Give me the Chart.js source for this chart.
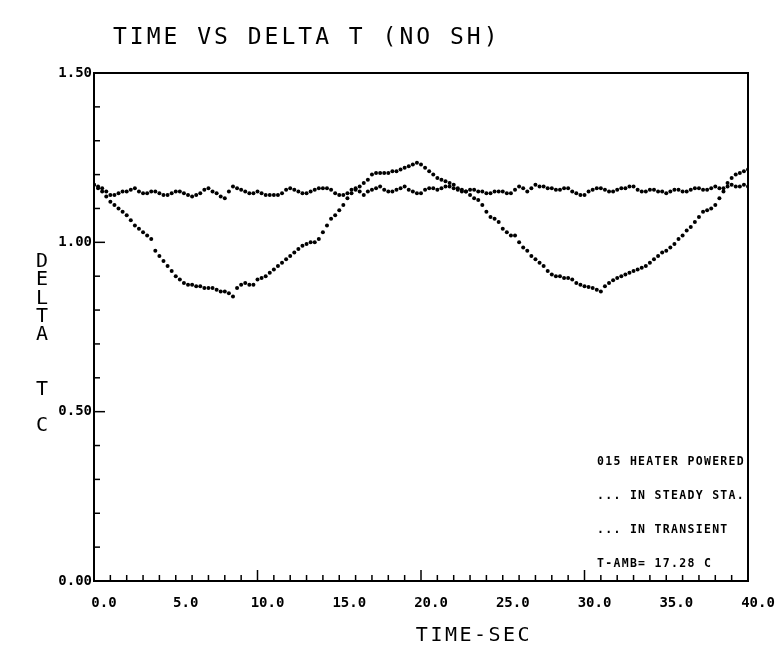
<!DOCTYPE html>
<html>
<head>
<meta charset="utf-8">
<script src="https://cdn.jsdelivr.net/npm/chart.js@4.4.1/dist/chart.umd.min.js"></script>
<style>
html, body { margin: 0; padding: 0; background: #fff; }
</style>
</head>
<body>
<canvas id="mycanvas" width="781" height="660"></canvas>
<script>
// time in seconds, one second per line
var timeSec = [0, 0.25, 0.5, 0.75, 1, 1.25, 1.5, 1.75, 2, 2.25, 2.5, 2.75, 3, 3.25, 3.5, 3.75,
    4, 4.25, 4.5, 4.75, 5, 5.25, 5.5, 5.75, 6, 6.25, 6.5, 6.75, 7, 7.25, 7.5, 7.75,
    8, 8.25, 8.5, 8.75, 9, 9.25, 9.5, 9.75, 10, 10.25, 10.5, 10.75, 11, 11.25, 11.5, 11.75,
    12, 12.25, 12.5, 12.75, 13, 13.25, 13.5, 13.75, 14, 14.25, 14.5, 14.75, 15, 15.25, 15.5, 15.75,
    16, 16.25, 16.5, 16.75, 17, 17.25, 17.5, 17.75, 18, 18.25, 18.5, 18.75, 19, 19.25, 19.5, 19.75,
    20, 20.25, 20.5, 20.75, 21, 21.25, 21.5, 21.75, 22, 22.25, 22.5, 22.75, 23, 23.25, 23.5, 23.75,
    24, 24.25, 24.5, 24.75, 25, 25.25, 25.5, 25.75, 26, 26.25, 26.5, 26.75, 27, 27.25, 27.5, 27.75,
    28, 28.25, 28.5, 28.75, 29, 29.25, 29.5, 29.75, 30, 30.25, 30.5, 30.75, 31, 31.25, 31.5, 31.75,
    32, 32.25, 32.5, 32.75, 33, 33.25, 33.5, 33.75, 34, 34.25, 34.5, 34.75, 35, 35.25, 35.5, 35.75,
    36, 36.25, 36.5, 36.75, 37, 37.25, 37.5, 37.75, 38, 38.25, 38.5, 38.75, 39, 39.25, 39.5, 39.75,
    40]

// delta T, heater in steady state
var steadyDeltaT = [
    1.17, 1.165, 1.16, 1.15,   1.14, 1.14, 1.145, 1.15,   1.15, 1.155, 1.16, 1.15,   1.145, 1.145, 1.15, 1.15,
    1.145, 1.14, 1.14, 1.145,  1.15, 1.15, 1.145, 1.14,   1.135, 1.14, 1.145, 1.155, 1.16, 1.15, 1.145, 1.135,
    1.13, 1.15, 1.165, 1.16,   1.155, 1.15, 1.145, 1.145, 1.15, 1.145, 1.14, 1.14,   1.14, 1.14, 1.145, 1.155,
    1.16, 1.155, 1.15, 1.145,  1.145, 1.15, 1.155, 1.16,  1.16, 1.16, 1.155, 1.145,  1.14, 1.14, 1.145, 1.155,
    1.16, 1.15, 1.14, 1.15,    1.155, 1.16, 1.165, 1.155, 1.15, 1.15, 1.155, 1.16,   1.165, 1.155, 1.15, 1.145,
    1.145, 1.155, 1.16, 1.16,  1.155, 1.16, 1.165, 1.165, 1.16, 1.155, 1.15, 1.15,   1.155, 1.155, 1.15, 1.15,
    1.145, 1.145, 1.15, 1.15,  1.15, 1.145, 1.145, 1.155, 1.165, 1.16, 1.15, 1.16,   1.17, 1.165, 1.165, 1.16,
    1.16, 1.155, 1.155, 1.16,  1.16, 1.15, 1.145, 1.14,   1.14, 1.15, 1.155, 1.16,   1.16, 1.155, 1.15, 1.15,
    1.155, 1.16, 1.16, 1.165,  1.165, 1.155, 1.15, 1.15,  1.155, 1.155, 1.15, 1.15,  1.145, 1.15, 1.155, 1.155,
    1.15, 1.15, 1.155, 1.16,   1.16, 1.155, 1.155, 1.16,  1.165, 1.16, 1.16, 1.165,  1.17, 1.165, 1.165, 1.17,
    1.165]

// delta T, heater in transient
var transientDeltaT = [
    1.17, 1.16, 1.15, 1.135,   1.12, 1.11, 1.10, 1.09,    1.08, 1.065, 1.05, 1.04,   1.03, 1.02, 1.01, 0.975,
    0.96, 0.945, 0.93, 0.915,  0.90, 0.89, 0.88, 0.875,   0.875, 0.87, 0.87, 0.865,  0.865, 0.865, 0.86, 0.855,
    0.855, 0.85, 0.84, 0.865,  0.875, 0.88, 0.875, 0.875, 0.89, 0.895, 0.90, 0.91,   0.92, 0.93, 0.94, 0.95,
    0.96, 0.97, 0.98, 0.99,    0.995, 1.00, 1.00, 1.01,   1.03, 1.05, 1.07, 1.08,    1.095, 1.11, 1.13, 1.145,
    1.155, 1.165, 1.175, 1.185, 1.20, 1.205, 1.205, 1.205, 1.205, 1.21, 1.21, 1.215, 1.22, 1.225, 1.23, 1.235,
    1.23, 1.22, 1.21, 1.20,    1.19, 1.185, 1.18, 1.175,  1.17, 1.16, 1.155, 1.15,   1.14, 1.13, 1.125, 1.11,
    1.09, 1.075, 1.07, 1.06,   1.04, 1.03, 1.02, 1.02,    1.00, 0.985, 0.975, 0.96,  0.95, 0.94, 0.93, 0.915,
    0.905, 0.90, 0.90, 0.895,  0.895, 0.89, 0.88, 0.875,  0.87, 0.868, 0.865, 0.86,  0.855, 0.87, 0.88, 0.888,
    0.895, 0.90, 0.905, 0.91,  0.915, 0.92, 0.925, 0.93,  0.94, 0.95, 0.96, 0.97,    0.975, 0.985, 0.995, 1.01,
    1.02, 1.035, 1.045, 1.06,  1.075, 1.09, 1.095, 1.10,  1.11, 1.13, 1.15, 1.175,   1.19, 1.20, 1.205, 1.21,
    1.215]

var xTicks = [0, 5, 10, 15, 20, 25, 30, 35, 40]
var yTicks = [0, 0.5, 1.0, 1.5]
var yTitleLetters = ['D', 'E', 'L', 'T', 'A', '', '', 'T', '', 'C']
var noteLines = ['015 HEATER POWERED', '... IN STEADY STA.', '... IN TRANSIENT', 'T-AMB= 17.28 C']

function toPoints(values){
    return timeSec.map(function(t, i){ return {x: t, y: values[i]} })
}

// frame, minor ticks and all the plotter lettering
var plotterText = {
    id: 'plotterText',
    afterDraw: function(chart){
        var c = chart.ctx
        var a = chart.chartArea
        var xs = chart.scales.x
        var ys = chart.scales.y
        c.save()
        c.strokeStyle = '#000'
        c.fillStyle = '#000'
        c.lineWidth = 2
        c.strokeRect(a.left, a.top, a.right - a.left, a.bottom - a.top)

        c.lineWidth = 1.5
        for (var i = 0; i <= 40; i++){
            var px = xs.getPixelForValue(i)
            var len = (i % 10 == 0) ? 11 : 6
            c.beginPath(); c.moveTo(px, a.bottom); c.lineTo(px, a.bottom - len); c.stroke()
        }
        for (var j = 0; j <= 15; j++){
            var py = ys.getPixelForValue(j / 10)
            var len2 = (j % 5 == 0) ? 11 : 6
            c.beginPath(); c.moveTo(a.left, py); c.lineTo(a.left + len2, py); c.stroke()
        }

        c.textBaseline = 'middle'
        c.font = '23px "DejaVu Sans Mono"'
        c.letterSpacing = '3px'
        c.textAlign = 'left'
        c.fillText('TIME VS DELTA T (NO SH)', 113, 38)

        c.font = '20px "DejaVu Sans Mono"'
        c.letterSpacing = '2.5px'
        c.textAlign = 'center'
        c.fillText('TIME-SEC', 474, 636)
        c.letterSpacing = '0px'
        yTitleLetters.forEach(function(ch, k){
            if (ch) c.fillText(ch, 42, 262 + k * 18.2)
        })

        c.font = 'bold 11.5px "DejaVu Sans Mono"'
        c.letterSpacing = '1.3px'
        c.textAlign = 'left'
        noteLines.forEach(function(line, k){
            c.fillText(line, 597, 462 + k * 34)
        })
        c.restore()
    }
}

var context = document.getElementById('mycanvas').getContext('2d')
var tickFont = {family: 'DejaVu Sans Mono', weight: 'bold', size: 14}

new Chart(context, {
    type: 'scatter',
    data: {
        datasets: [{
            label: 'IN STEADY STA.',
            data: toPoints(steadyDeltaT),
            pointRadius: 2,
            pointBorderWidth: 0,
            pointBackgroundColor: '#000'
        }, {
            label: 'IN TRANSIENT',
            data: toPoints(transientDeltaT),
            pointRadius: 2,
            pointBorderWidth: 0,
            pointBackgroundColor: '#000'
        }]
    },
    options: {
        responsive: false,
        animation: false,
        layout: {padding: {left: 0, top: 73, right: 33, bottom: 0}},
        plugins: {legend: {display: false}, tooltip: {enabled: false}},
        scales: {
            x: {
                type: 'linear', min: 0, max: 40,
                afterFit: function(s){ s.height = 79 },
                afterBuildTicks: function(s){ s.ticks = xTicks.map(function(v){ return {value: v} }) },
                grid: {display: false, drawTicks: false},
                border: {display: false},
                ticks: {
                    padding: 14, labelOffset: 10, color: '#000', font: tickFont,
                    maxRotation: 0, autoSkip: false,
                    callback: function(v){ return Number(v).toFixed(1) }
                }
            },
            y: {
                min: 0, max: 1.5,
                afterFit: function(s){ s.width = 94 },
                afterBuildTicks: function(s){ s.ticks = yTicks.map(function(v){ return {value: v} }) },
                grid: {display: false, drawTicks: false},
                border: {display: false},
                ticks: {
                    padding: 2, color: '#000', font: tickFont,
                    callback: function(v){ return Number(v).toFixed(2) }
                }
            }
        }
    },
    plugins: [plotterText]
})
</script>
</body>
</html>
